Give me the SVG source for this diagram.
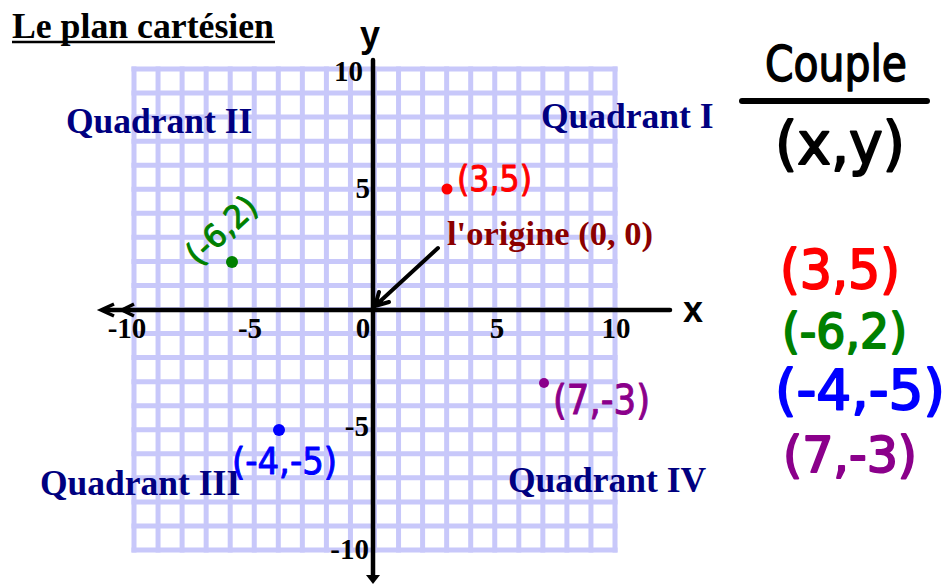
<svg xmlns="http://www.w3.org/2000/svg" width="949" height="585" viewBox="0 0 949 585">
<style>
.serif{font-family:"Liberation Serif","Times New Roman",serif;font-weight:bold}
.quad{font-size:35.5px;fill:#000080}
.tick{font-size:29px;fill:#000}
.hw{font-family:"DejaVu Sans","Noto Sans",sans-serif;stroke-linejoin:round;stroke-linecap:round}
.axis{stroke:#000;stroke-width:4.5;fill:none;stroke-linecap:round}
.grid{stroke:#c8c8fa;stroke-width:5;fill:none}
</style>
<rect width="949" height="585" fill="#fff"/>
<g id="grid">
<path class="grid" d="M134,66.5V552.5M158.05,66.5V552.5M182.1,66.5V552.5M206.15,66.5V552.5M230.2,66.5V552.5M254.25,66.5V552.5M278.3,66.5V552.5M302.35,66.5V552.5M326.4,66.5V552.5M350.45,66.5V552.5M374.5,66.5V552.5M398.55,66.5V552.5M422.6,66.5V552.5M446.65,66.5V552.5M470.7,66.5V552.5M494.75,66.5V552.5M518.8,66.5V552.5M542.85,66.5V552.5M566.9,66.5V552.5M590.95,66.5V552.5M615,66.5V552.5"/>
<path class="grid" d="M131.5,69H617.5M131.5,93.05H617.5M131.5,117.1H617.5M131.5,141.15H617.5M131.5,165.2H617.5M131.5,189.25H617.5M131.5,213.3H617.5M131.5,237.35H617.5M131.5,261.4H617.5M131.5,285.45H617.5M131.5,309.5H617.5M131.5,333.55H617.5M131.5,357.6H617.5M131.5,381.65H617.5M131.5,405.7H617.5M131.5,429.75H617.5M131.5,453.8H617.5M131.5,477.85H617.5M131.5,501.9H617.5M131.5,525.95H617.5M131.5,550H617.5"/>
</g>
<g id="title">
<text class="serif" x="12" y="38" font-size="35.5" textLength="262" lengthAdjust="spacingAndGlyphs">Le plan cartésien</text>
<line x1="12" y1="42" x2="275" y2="42" stroke="#000" stroke-width="2.5"/>
</g>
<g id="axes">
<line class="axis" x1="373" y1="60" x2="373" y2="576"/>
<polygon points="366,575 380,575 373,584" fill="#000"/>
<line class="axis" x1="104" y1="310" x2="670" y2="310"/>
<path d="M114,304 L101,310 L114,316 M134,304 L122,310 L134,316" stroke="#000" stroke-width="3.5" fill="none"/>
<text x="683" y="322" font-family="Liberation Sans,Arial,sans-serif" font-weight="bold" font-size="36">x</text>
<text x="360" y="47" font-family="Liberation Sans,Arial,sans-serif" font-weight="bold" font-size="36">y</text>
</g>
<g id="tick-labels" class="serif tick">
<text x="127" y="338" text-anchor="middle">-10</text>
<text x="250" y="338" text-anchor="middle">-5</text>
<text x="363" y="338" text-anchor="middle">0</text>
<text x="497" y="338" text-anchor="middle">5</text>
<text x="616" y="338" text-anchor="middle">10</text>
<text x="363" y="81" text-anchor="end">10</text>
<text x="370" y="198" text-anchor="end">5</text>
<text x="369" y="436" text-anchor="end">-5</text>
<text x="369" y="559" text-anchor="end">-10</text>
</g>
<g id="quadrants" class="serif quad">
<text x="66" y="133">Quadrant II</text>
<text x="541" y="128">Quadrant I</text>
<text x="40" y="495">Quadrant III</text>
<text x="508" y="492">Quadrant IV</text>
</g>
<g id="origin">
<text class="serif" x="447" y="245" font-size="34.5" fill="#8b0000">l'origine (0, 0)</text>
<path d="M438,248 L375,306 M375,306 L379,292 M375,306 L389,302" stroke="#000" stroke-width="4" fill="none" stroke-linecap="round"/>
</g>
<g id="point-red">
<circle cx="447" cy="189" r="5.5" fill="#ff0000"/>
<text class="hw" x="457" y="191" font-size="36" fill="#ff0000" stroke="#ff0000" stroke-width="1" textLength="75" lengthAdjust="spacingAndGlyphs">(3,5)</text>
</g>
<g id="point-green">
<circle cx="232" cy="262" r="6" fill="#008000"/>
<text class="hw" transform="translate(229,238) rotate(-43)" x="0" y="0" font-size="32" fill="#008000" stroke="#008000" stroke-width="1" text-anchor="middle" textLength="84" lengthAdjust="spacingAndGlyphs">(-6,2)</text>
</g>
<g id="point-blue">
<circle cx="279" cy="430" r="6" fill="#0000ff"/>
<text class="hw" x="232" y="474" font-size="38" fill="#0000ff" stroke="#0000ff" stroke-width="1" textLength="105" lengthAdjust="spacingAndGlyphs">(-4,-5)</text>
</g>
<g id="point-purple">
<circle cx="544" cy="383" r="5" fill="#8b008b"/>
<text class="hw" x="553" y="414" font-size="40" fill="#8b008b" stroke="#8b008b" stroke-width="1" textLength="97" lengthAdjust="spacingAndGlyphs">(7,-3)</text>
</g>
<g id="couple">
<text class="hw" x="765" y="81" font-size="50" fill="#000" stroke="#000" stroke-width="1.5" textLength="142" lengthAdjust="spacingAndGlyphs">Couple</text>
<line x1="742" y1="101" x2="927" y2="101" stroke="#000" stroke-width="6" stroke-linecap="round"/>
<text class="hw" x="775" y="164" font-size="58" fill="#000" stroke="#000" stroke-width="2" textLength="130" lengthAdjust="spacingAndGlyphs">(x,y)</text>
</g>
<g id="list">
<text class="hw" x="780" y="288" font-size="54" fill="#ff0000" stroke="#ff0000" stroke-width="2" textLength="120" lengthAdjust="spacingAndGlyphs">(3,5)</text>
<text class="hw" x="782" y="348" font-size="48" fill="#008000" stroke="#008000" stroke-width="2" textLength="125" lengthAdjust="spacingAndGlyphs">(-6,2)</text>
<text class="hw" x="775" y="409" font-size="55" fill="#0000ff" stroke="#0000ff" stroke-width="2" textLength="170" lengthAdjust="spacingAndGlyphs">(-4,-5)</text>
<text class="hw" x="783" y="472" font-size="50" fill="#8b008b" stroke="#8b008b" stroke-width="2" textLength="134" lengthAdjust="spacingAndGlyphs">(7,-3)</text>
</g>
</svg>
